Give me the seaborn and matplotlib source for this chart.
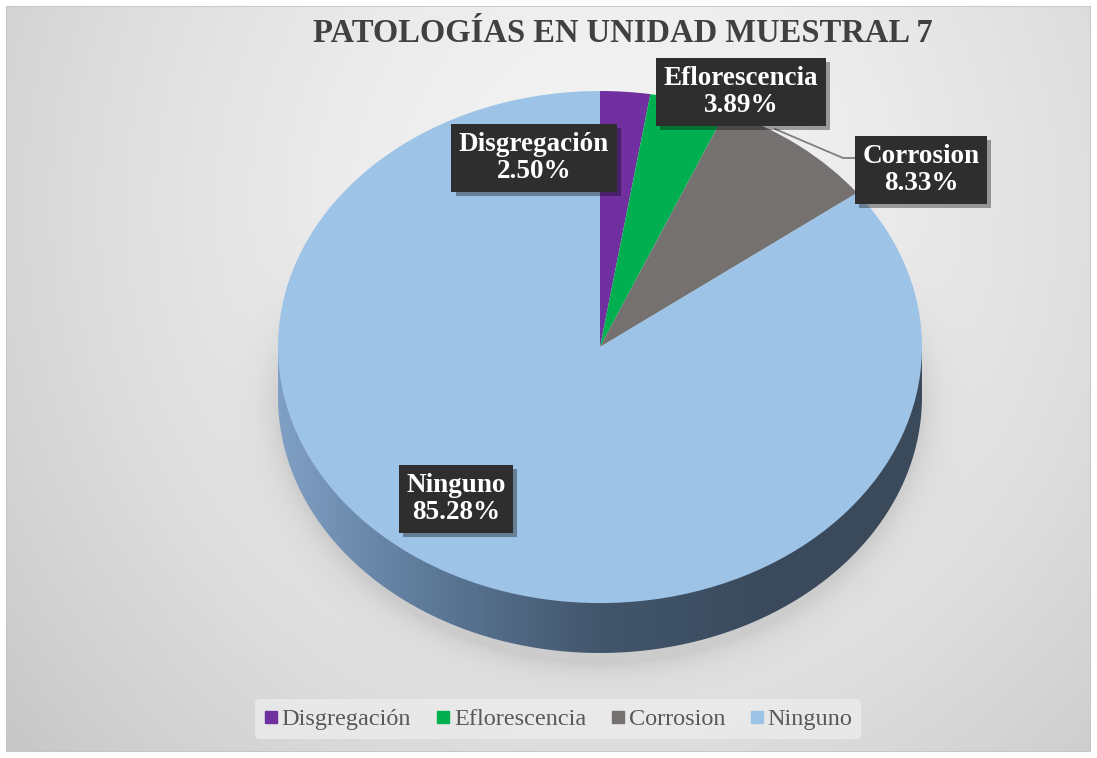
import numpy as np
import matplotlib
matplotlib.use("Agg")
import matplotlib.pyplot as plt
import matplotlib.patheffects as pe
from matplotlib.path import Path
from matplotlib.patches import PathPatch, Rectangle
import seaborn as sns

# data
categories = ["Disgregación", "Eflorescencia", "Corrosion", "Ninguno"]
percentages = [2.50, 3.89, 8.33, 85.28]
title = "PATOLOGÍAS EN UNIDAD MUESTRAL 7"

slice_colors = sns.color_palette(["#7030a0", "#00b050", "#767171", "#9dc3e6"])

sns.set_theme(style="white")
plt.rcParams["font.family"] = ["Liberation Serif", "DejaVu Serif"]

W, H = 1097, 758
fig = plt.figure(figsize=(W / 100, H / 100), dpi=100)
fig.patch.set_facecolor("white")


def px(x, y):
    return x / W, 1 - y / H


# background panel: light centre, greyer edges, soft shadow round the pie
bg = fig.add_axes([6 / W, 6 / H, (W - 12) / W, (H - 12) / H])
yy, xx = np.mgrid[0:H - 12, 0:W - 12].astype(float)
r = np.sqrt(((xx - 600) / 650) ** 2 + ((yy - 200) / 700) ** 2)
shade = 0.955 - 0.13 * np.clip(r, 0, 1.4) ** 1.6
d = np.sqrt(((xx - 594) / 335) ** 2 + ((yy - 380) / 285) ** 2)
wy = 1 / (1 + np.exp(-(yy - 330) / 40))
shade -= 0.09 * np.exp(-np.clip(d - 0.97, 0, None) / 0.05) * wy
bg.imshow(np.dstack([shade] * 3), aspect="auto", extent=(0, 1, 0, 1),
          origin="upper", interpolation="bilinear")
bg.set_xlim(0, 1)
bg.set_ylim(0, 1)
bg.axis("off")
bg.add_patch(Rectangle((0, 0), 1, 1, fill=False, edgecolor="#c4c4c4",
                       lw=1.2, transform=bg.transAxes))

# pie axes: unit circle squashed to an ellipse with a side rim
depth = 0.195
ax = fig.add_axes([278 / W, 1 - 653 / H, 644 / W, 562 / H])
ax.patch.set_alpha(0)

theta = np.linspace(np.pi, 2 * np.pi, 200)
rim = np.column_stack([np.cos(theta), np.sin(theta) - depth])
rim = np.vstack([rim, [[1, 0], [-1, 0], [-1, -depth]]])
rim_patch = PathPatch(Path(rim), facecolor="none", edgecolor="none")
ax.add_patch(rim_patch)
grad = np.linspace(0, 1, 256)[None, :]
side_cmap = sns.blend_palette(["#7f9fc4", "#5b7796", "#42566c", "#3b4b5d", "#3a4a5b"],
                              as_cmap=True)
side = ax.imshow(grad, cmap=side_cmap, extent=(-1, 1, -1 - depth, 0),
                 aspect="auto", zorder=1)
side.set_clip_path(rim_patch)

wedges, _ = ax.pie(percentages, colors=slice_colors, startangle=90,
                   counterclock=False, wedgeprops=dict(linewidth=0))
for w in wedges:
    w.set_zorder(2)
ax.set_aspect("auto")
ax.set_xlim(-1, 1)
ax.set_ylim(-1 - depth, 1)
ax.axis("off")

# title
fig.text(*px(623, 33), title, ha="center", va="center", fontsize=23.5,
         fontweight="bold", color="#404040")

# leader line for Corrosion
fig.add_artist(plt.Line2D([px(775, 0)[0], px(843, 0)[0], px(856, 0)[0]],
                          [px(0, 129)[1], px(0, 158)[1], px(0, 158)[1]],
                          color="#7f7f7f", lw=1.3))

# data labels
label_pos = [(534, 158), (741, 92), (921, 170), (456, 499)]
shadow = [pe.withSimplePatchShadow(offset=(3, -3), shadow_rgbFace="#000000", alpha=0.35)]
for name, val, (lx, ly) in zip(categories, percentages, label_pos):
    t = fig.text(*px(lx, ly), f"{name}\n{val:.2f}%", ha="center", va="center",
                 fontsize=19.5, fontweight="bold", color="white", linespacing=1.15,
                 bbox=dict(boxstyle="square,pad=0.28", facecolor="#2e2e2e",
                           edgecolor="none"))
    t.get_bbox_patch().set_path_effects(shadow)

# legend
handles = [plt.Line2D([], [], marker="s", linestyle="", markersize=8,
                      markerfacecolor=c, markeredgecolor=c) for c in slice_colors]
leg = fig.legend(handles, categories, loc="center", bbox_to_anchor=px(558, 719),
                 ncol=4, frameon=True, fontsize=17.5, handlelength=0.6,
                 handletextpad=0.15, columnspacing=1.0, borderpad=0.35)
leg.get_frame().set_facecolor("#ececec")
leg.get_frame().set_edgecolor("none")
leg.get_frame().set_alpha(0.8)
for txt in leg.get_texts():
    txt.set_color("#595959")

fig.savefig("out.png", dpi=100, facecolor=fig.get_facecolor())
